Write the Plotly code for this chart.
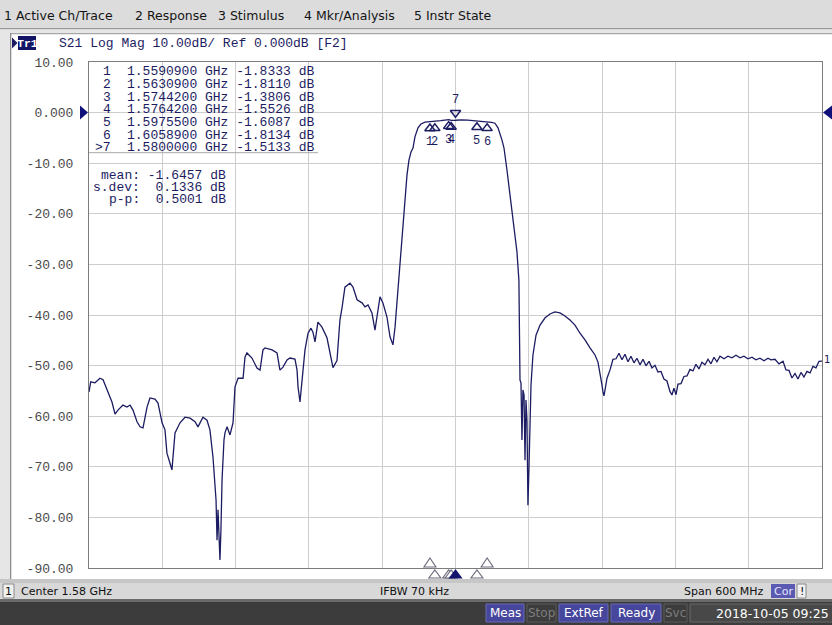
import plotly.graph_objects as go

# ---------------- data ----------------
freq_mhz = [
    1280.0, 1281.4, 1284.9, 1289.0, 1291.5, 1295.6, 1298.8, 1301.3, 1303.7, 1307.8,
    1311.1, 1313.6, 1316.0, 1319.3, 1321.8, 1324.2, 1327.5, 1329.9, 1334.0, 1336.5,
    1339.8, 1342.2, 1343.8, 1346.3, 1347.9, 1350.4, 1354.5, 1358.6, 1362.7, 1366.8,
    1369.2, 1373.3, 1376.6, 1379.0, 1381.5, 1384.0, 1384.8, 1385.6, 1386.4, 1387.2,
    1388.0, 1388.9, 1390.5, 1391.3, 1393.0, 1395.4, 1397.9, 1399.5, 1402.0, 1406.1,
    1407.7, 1409.3, 1413.4, 1417.5, 1420.0, 1422.4, 1424.1, 1429.8, 1433.9, 1436.3,
    1438.8, 1442.1, 1444.5, 1448.6, 1450.3, 1451.1, 1452.7, 1455.2, 1456.8, 1459.3,
    1461.7, 1463.3, 1465.0, 1467.4, 1470.7, 1474.8, 1477.3, 1479.7, 1483.0, 1485.4,
    1487.1, 1489.5, 1493.6, 1496.1, 1499.4, 1503.5, 1505.9, 1508.4, 1511.6, 1514.1,
    1515.7, 1518.2, 1520.6, 1523.9, 1526.4, 1528.8, 1530.5, 1532.9, 1534.6, 1535.4,
    1537.0, 1538.7, 1540.3, 1541.9, 1543.6, 1545.2, 1546.8, 1549.3, 1551.7, 1555.0,
    1559.09, 1563.09, 1568.0, 1574.42, 1576.42, 1580.0, 1585.0, 1590.0, 1597.55, 1602.0,
    1605.89, 1609.5, 1612.3, 1614.8, 1618.0, 1619.7, 1622.1, 1624.6, 1627.0, 1629.5,
    1630.3, 1631.9, 1632.8, 1633.6, 1634.4, 1635.2, 1636.1, 1636.9, 1637.7, 1638.5,
    1639.3, 1640.1, 1641.0, 1641.8, 1643.4, 1645.9, 1649.2, 1653.2, 1657.3, 1661.4,
    1665.5, 1669.6, 1673.7, 1677.8, 1681.9, 1686.0, 1690.1, 1694.2, 1696.6, 1698.3,
    1699.9, 1700.7, 1701.5, 1702.4, 1704.0, 1706.5, 1708.9, 1711.4, 1713.8, 1716.3,
    1718.7, 1721.2, 1723.6, 1726.1, 1728.5, 1731.0, 1733.5, 1735.9, 1738.4, 1740.8,
    1743.3, 1745.7, 1748.2, 1750.6, 1753.1, 1755.6, 1757.2, 1758.8, 1760.5, 1762.1,
    1764.6, 1767.0, 1769.5, 1771.9, 1774.4, 1776.8, 1779.3, 1781.7, 1784.2, 1786.7,
    1789.1, 1791.6, 1794.0, 1796.5, 1799.8, 1803.0, 1806.3, 1809.6, 1812.9, 1816.1,
    1819.4, 1822.7, 1825.9, 1829.2, 1832.5, 1835.8, 1838.2, 1841.5, 1844.8, 1848.1,
    1850.5, 1853.0, 1855.4, 1857.9, 1860.3, 1862.8, 1865.2, 1867.7, 1870.2, 1872.6,
    1875.1, 1877.5, 1880.0,
]
s21_db = [
    -55.2, -53.2, -53.4, -52.5, -52.8, -55.4, -57.2, -59.6, -58.8, -57.8,
    -58.2, -57.8, -58.8, -61.1, -62.1, -62.3, -58.2, -56.4, -56.6, -57.4,
    -61.3, -62.7, -67.3, -69.3, -70.6, -63.3, -61.3, -60.2, -60.4, -61.1,
    -62.1, -60.2, -60.8, -62.7, -68.1, -76.6, -84.5, -78.5, -85.5, -88.4,
    -82.5, -72.6, -64.7, -63.3, -62.1, -63.7, -61.3, -54.2, -52.5, -52.5,
    -48.3, -47.5, -48.5, -50.5, -50.9, -46.9, -46.5, -46.9, -47.5, -50.9,
    -50.3, -48.9, -48.5, -48.7, -50.9, -54.2, -57.2, -50.9, -46.9, -43.6,
    -42.6, -43.4, -45.3, -41.4, -42.4, -44.5, -47.2, -50.4, -49.0, -41.0,
    -38.6, -34.5, -33.7, -34.5, -37.0, -37.6, -38.4, -38.0, -39.6, -43.0,
    -40.4, -36.4, -37.6, -40.4, -44.3, -45.9, -42.4, -35.1, -29.7, -27.2,
    -22.2, -17.3, -12.3, -9.4, -7.8, -7.0, -4.8, -3.0, -2.25, -1.9,
    -1.8333, -1.811, -1.6, -1.3806, -1.5526, -1.5133, -1.42, -1.48, -1.6087, -1.7,
    -1.8134, -1.95, -2.1, -3.0, -5.4, -7.0, -11.3, -16.3, -21.2, -25.8,
    -27.5, -33.1, -52.85, -53.4, -64.7, -54.8, -55.8, -68.7, -56.8, -60.8,
    -77.6, -70.6, -60.8, -53.8, -47.9, -44.0, -42.0, -40.6, -39.8, -39.4,
    -39.6, -40.2, -41.0, -42.0, -43.6, -44.9, -46.5, -47.9, -49.3, -51.3,
    -53.8, -55.2, -56.0, -54.8, -52.5, -50.85, -48.75, -48.65, -47.55, -48.85,
    -47.75, -49.25, -48.15, -49.45, -48.55, -49.85, -48.75, -50.05, -49.15, -50.45,
    -49.95, -51.25, -51.15, -52.65, -53.05, -55.15, -55.8, -54.45, -55.75, -53.65,
    -53.55, -52.15, -52.05, -50.75, -51.05, -49.75, -50.65, -49.35, -49.85, -48.75,
    -49.65, -48.35, -49.25, -48.15, -48.65, -48.15, -48.45, -47.95, -48.45, -48.15,
    -48.65, -48.35, -48.85, -48.55, -49.05, -48.55, -48.85, -48.75, -49.65, -49.15,
    -50.85, -50.95, -52.45, -51.55, -52.65, -51.35, -52.25, -51.15, -51.45, -50.15,
    -50.45, -49.15, -49.1,
]
freq_ghz = [f / 1000.0 for f in freq_mhz]

marker_ids = ["1", "2", "3", "4", "5", "6", "7"]
marker_labels = ["1", "2", "3", "4", "5", "6", ">7"]
marker_freq_ghz = [1.5590900, 1.5630900, 1.5744200, 1.5764200, 1.5975500, 1.6058900, 1.5800000]
marker_db = [-1.8333, -1.8110, -1.3806, -1.5526, -1.6087, -1.8134, -1.5133]
stat_names = ["mean:", "s.dev:", "p-p:"]
stat_values = [-1.6457, 0.1336, 0.5001]

y_tickvals = [10, 0, -10, -20, -30, -40, -50, -60, -70, -80, -90]
y_ticktext = ["10.00", "0.000", "-10.00", "-20.00", "-30.00", "-40.00",
              "-50.00", "-60.00", "-70.00", "-80.00", "-90.00"]

center_ghz = 1.58
span_ghz = 0.6
x_div = 0.06

menu_items = ["1 Active Ch/Trace", "2 Response", "3 Stimulus", "4 Mkr/Analysis", "5 Instr State"]
title_text = "S21 Log Mag 10.00dB/ Ref 0.000dB [F2]"
status_items = ["Meas", "Stop", "ExtRef", "Ready", "Svc"]
status_active = [True, False, True, True, False]
date_text = "2018-10-05 09:25"

# ---------------- layout geometry ----------------
W, H = 832, 625
L, R, T, B = 89, 822, 62, 568
NAVY = "#1c1c62"
MONO = "Liberation Mono, DejaVu Sans Mono, monospace"
SANS = "DejaVu Sans, Verdana, sans-serif"


def px(x):
    return (x - L) / (R - L)


def py(y):
    return (B - y) / (B - T)


shapes = []


def rect(x0, y0, x1, y1, fill, line=None, lw=0):
    shapes.append(dict(type="rect", xref="paper", yref="paper",
                       x0=px(x0), x1=px(x1), y0=py(y1), y1=py(y0),
                       fillcolor=fill, line=dict(width=lw, color=line or fill),
                       layer="above"))


annotations = []


def text(x, y, s, size=12, color="#101010", family=SANS, anchor="left", bold=False):
    annotations.append(dict(xref="paper", yref="paper", x=px(x), y=py(y),
                            text=("<b>%s</b>" % s) if bold else s, showarrow=False,
                            xanchor=anchor, yanchor="middle",
                            font=dict(size=size, color=color, family=family)))


# window chrome
rect(0, 0, W, 28, "#dcdcdc")
rect(0, 28, W, 29.5, "#9a9a9a")
rect(0, 29.5, W, 33, "#e6e6e6")
rect(10, 33, W, 34.2, "#a8a8a8")
rect(0, 33, 10, 583, "#e6e6e6")
rect(10, 33, 11.3, 580, "#8c8c8c")
rect(0, 579, W, 583, "#c6c6c6")
rect(0, 583, W, 599, "#d8d8d8")
rect(3, 584, 14, 598, "#f0f0f0", "#8a8a8a", 1)
rect(771, 584, 795, 598, "#5a5ab2")
rect(797, 584, 806, 598, "#f0f0f0", "#8a8a8a", 1)
rect(0, 599, W, 602, "#6a6a6a")
rect(0, 602, W, H, "#3c3c3c")

status_x = [(486, 524), (527, 556), (559, 608), (611, 661), (664, 687)]
for (a, b), name, act in zip(status_x, status_items, status_active):
    if act:
        rect(a, 604, b, 622, "#46469c", "#6a6ab8", 1)
        text((a + b) / 2, 613, name, 12, "#ffffff", anchor="center")
    else:
        rect(a, 604, b, 622, "#3c3c3c", "#5a5a5a", 1)
        text((a + b) / 2, 613, name, 12, "#7c7c7c", anchor="center")
rect(690, 604, W + 2, 622, "#484848", "#686868", 1)
text(831, 613, date_text, 12.5, "#ffffff", anchor="right")

# trace title
rect(18, 36, 36, 50, "#141466")
shapes.append(dict(type="path", xref="paper", yref="paper",
                   path="M %f %f L %f %f L %f %f Z" % (px(12), py(37.5), px(17.5), py(43), px(12), py(48.5)),
                   fillcolor=NAVY, line=dict(width=0), layer="above"))
text(27, 43, "Tr1", 11.5, "#ffffff", MONO, "center", bold=True)
text(57, 43, title_text, 13, NAVY, MONO)

# menu bar
for xpos, item in zip([2, 133, 216, 302, 412], menu_items):
    text(xpos, 15, item, 12.5, "#141414")

# bottom bar
text(8.5, 591, "1", 11, "#101010", anchor="center")
text(19, 591, "Center %.2f GHz" % center_ghz, 11, "#101010")
text(378, 591, "IFBW 70 kHz", 11, "#101010")
text(765, 591, "Span %d MHz" % round(span_ghz * 1000), 11, "#101010", anchor="right")
text(783, 591, "Cor", 11, "#e4e4ff", anchor="center")
text(801.5, 591, "!", 11, "#101010", anchor="center")

# marker table
row_y = [71.7, 84.4, 97.1, 109.8, 122.5, 135.2, 147.9]
for yy, lab, f, v in zip(row_y, marker_labels, marker_freq_ghz, marker_db):
    text(113, yy, lab, 13, NAVY, MONO, "right")
    text(125, yy, "%.7f GHz %.4f dB" % (f, v), 13, NAVY, MONO)
shapes.append(dict(type="line", xref="paper", yref="paper", x0=px(89), x1=px(318),
                   y0=py(152.7), y1=py(152.7), line=dict(color="#a8a8a8", width=1), layer="above"))
for yy, n, v in zip([175.8, 187.6, 199.4], stat_names, stat_values):
    text(228, yy, "%s %7.4f dB" % (n, v), 13, NAVY, MONO, "right")

# reference level arrows (anchored at 0 dB)
shapes.append(dict(type="path", xref="paper", yref="y", xsizemode="pixel", ysizemode="pixel",
                   xanchor=0, yanchor=0, path="M -9 -7 L -1 0 L -9 7 Z",
                   fillcolor="#10107a", line=dict(width=0), layer="above"))
shapes.append(dict(type="path", xref="paper", yref="y", xsizemode="pixel", ysizemode="pixel",
                   xanchor=1, yanchor=0, path="M 10 -7 L 1 0 L 10 7 Z",
                   fillcolor="#10107a", line=dict(width=0), layer="above"))

# stimulus markers along the bottom edge (pixel-sized, anchored at marker frequency)
upper = ["1", "6"]
for mid, f in zip(marker_ids, marker_freq_ghz):
    if mid == "7":
        pth, fill, lc = "M -6 -10 L 6 -10 L 0 -2 Z", "#14146e", "#14146e"
    elif mid in upper:
        pth, fill, lc = "M -6 1 L 6 1 L 0 10 Z", "#ffffff", "#6a6a7a"
    else:
        pth, fill, lc = "M -6 -10 L 6 -10 L 0 -2 Z", "#ffffff", "#6a6a7a"
    shapes.append(dict(type="path", xref="x", yref="paper", xsizemode="pixel", ysizemode="pixel",
                       xanchor=f, yanchor=0, path=pth, fillcolor=fill,
                       line=dict(width=1.1, color=lc), layer="above"))

fig = go.Figure()
fig.add_trace(go.Scatter(x=freq_ghz, y=s21_db, mode="lines",
                         line=dict(color=NAVY, width=1.3), hoverinfo="skip"))

# markers 1-6 under the trace, marker 7 above
fig.add_trace(go.Scatter(x=marker_freq_ghz[:6], y=[d - 1.3 for d in marker_db[:6]], mode="markers",
                         marker=dict(symbol="triangle-up-open", size=9, color=NAVY,
                                     line=dict(width=1.5, color=NAVY)), hoverinfo="skip"))
fig.add_trace(go.Scatter(x=[marker_freq_ghz[6]], y=[marker_db[6] + 1.5], mode="markers",
                         marker=dict(symbol="triangle-down-open", size=9, color=NAVY,
                                     line=dict(width=1.5, color=NAVY)), hoverinfo="skip"))
for mid, f, d in zip(marker_ids, marker_freq_ghz, marker_db):
    annotations.append(dict(x=f, y=d, xref="x", yref="y", text=mid, showarrow=False,
                            yshift=20 if mid == "7" else -20,
                            font=dict(size=12, color=NAVY, family=MONO)))

# trace end label
annotations.append(dict(x=freq_ghz[-1], y=s21_db[-1], xref="x", yref="y", text="1",
                        showarrow=False, xanchor="left", xshift=0, yshift=2,
                        font=dict(size=10, color=NAVY, family=SANS)))

fig.update_layout(
    width=W, height=H, autosize=False,
    margin=dict(l=L, r=W - R, t=T, b=H - B, pad=0),
    paper_bgcolor="#ffffff", plot_bgcolor="#ffffff",
    showlegend=False,
    xaxis=dict(range=[center_ghz - span_ghz / 2, center_ghz + span_ghz / 2],
               tick0=center_ghz - span_ghz / 2, dtick=x_div, showticklabels=False, ticks="",
               showgrid=True, gridcolor="#cdcdcd", gridwidth=1, zeroline=False,
               showline=True, mirror=True, linecolor="#7c7c7c", linewidth=1, fixedrange=True),
    yaxis=dict(range=[-90, 10], tickvals=y_tickvals, ticktext=y_ticktext, ticks="",
               ticklabelstandoff=12,
               tickfont=dict(family=MONO, size=13, color="#4a4a4a"),
               showgrid=True, gridcolor="#cdcdcd", gridwidth=1, zeroline=False,
               showline=True, mirror=True, linecolor="#7c7c7c", linewidth=1, fixedrange=True),
    shapes=shapes,
    annotations=annotations,
)

fig.write_html("out.html", config={"displayModeBar": False},
               post_script="document.body.style.margin='0';document.body.style.padding='0';"
                           "document.body.style.overflow='hidden';")
